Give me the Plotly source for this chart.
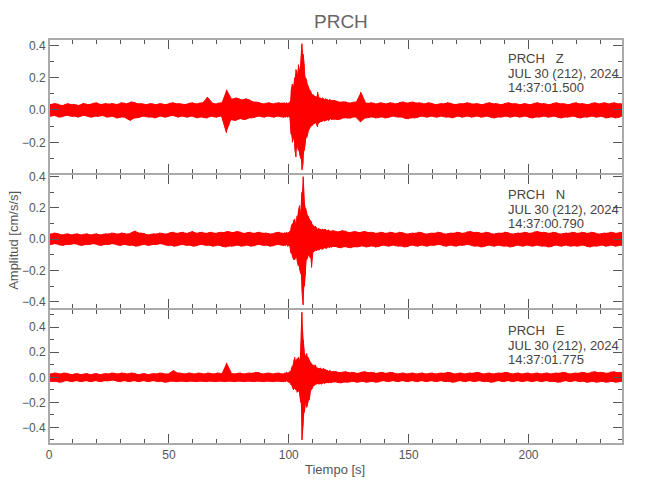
import plotly.graph_objects as go
from plotly.subplots import make_subplots

# ---- data: envelope (max / min) of each trace per time bin ----
t_env = [
    0, 2, 4, 6, 8, 10, 12, 14, 16, 18,
    20, 22, 24, 26, 28, 30, 32, 34, 36, 38,
    40, 42, 44, 46, 48, 50, 52, 54, 56, 58,
    60, 62, 64, 66, 68, 70, 72, 74, 76, 78,
    80, 82, 84, 86, 88, 90, 92, 94, 96, 98,
    98.5, 99, 99.5, 100, 100.5, 101, 101.5, 102, 102.5, 103,
    103.5, 104, 104.5, 105, 105.5, 106, 106.5, 107, 107.5, 108,
    108.5, 109, 109.5, 110, 110.5, 111, 111.5, 112, 112.5, 113,
    113.5, 114, 114.5, 115, 115.5, 116, 116.5, 117, 117.5, 118,
    120, 122, 124, 126, 128, 130, 132, 134, 136, 138,
    140, 142, 144, 146, 148, 150, 152, 154, 156, 158,
    160, 162, 164, 166, 168, 170, 172, 174, 176, 178,
    180, 182, 184, 186, 188, 190, 192, 194, 196, 198,
    200, 202, 204, 206, 208, 210, 212, 214, 216, 218,
    220, 222, 224, 226, 228, 230, 232, 234, 236, 238,
    239.4,
]

z_up = [
    0.035, 0.040, 0.035, 0.030, 0.040, 0.035, 0.030, 0.040, 0.035, 0.040,
    0.045, 0.035, 0.040, 0.040, 0.035, 0.045, 0.040, 0.050, 0.045, 0.040,
    0.035, 0.040, 0.035, 0.040, 0.035, 0.040, 0.045, 0.040, 0.035, 0.040,
    0.045, 0.040, 0.045, 0.080, 0.045, 0.040, 0.045, 0.125, 0.070, 0.075,
    0.065, 0.070, 0.060, 0.050, 0.045, 0.040, 0.045, 0.040, 0.045, 0.045,
    0.040, 0.045, 0.040, 0.045, 0.050, 0.120, 0.160, 0.140, 0.200, 0.250,
    0.220, 0.280, 0.240, 0.300, 0.410, 0.345, 0.270, 0.200, 0.180, 0.150,
    0.130, 0.120, 0.100, 0.095, 0.090, 0.085, 0.080, 0.110, 0.080, 0.075,
    0.070, 0.075, 0.070, 0.065, 0.070, 0.065, 0.060, 0.065, 0.060, 0.060,
    0.055, 0.050, 0.050, 0.045, 0.050, 0.110, 0.045, 0.045, 0.040, 0.045,
    0.040, 0.045, 0.040, 0.045, 0.050, 0.045, 0.050, 0.045, 0.040, 0.045,
    0.040, 0.035, 0.040, 0.045, 0.040, 0.035, 0.040, 0.045, 0.040, 0.040,
    0.035, 0.040, 0.045, 0.040, 0.035, 0.040, 0.045, 0.040, 0.035, 0.040,
    0.035, 0.040, 0.045, 0.040, 0.035, 0.040, 0.045, 0.040, 0.035, 0.040,
    0.045, 0.040, 0.035, 0.040, 0.045, 0.040, 0.045, 0.040, 0.045, 0.040,
    0.035,
]
z_lo = [
    -0.040, -0.035, -0.045, -0.040, -0.035, -0.040, -0.045, -0.035, -0.040, -0.045,
    -0.040, -0.035, -0.045, -0.040, -0.050, -0.045, -0.050, -0.065, -0.050, -0.045,
    -0.040, -0.045, -0.050, -0.040, -0.045, -0.040, -0.035, -0.045, -0.040, -0.045,
    -0.040, -0.050, -0.045, -0.050, -0.040, -0.045, -0.040, -0.140, -0.060, -0.065,
    -0.055, -0.060, -0.050, -0.045, -0.040, -0.045, -0.040, -0.045, -0.040, -0.045,
    -0.045, -0.040, -0.045, -0.040, -0.050, -0.150, -0.200, -0.170, -0.240, -0.290,
    -0.220, -0.250, -0.270, -0.300, -0.370, -0.330, -0.250, -0.190, -0.170, -0.140,
    -0.120, -0.105, -0.100, -0.090, -0.085, -0.080, -0.085, -0.105, -0.080, -0.075,
    -0.070, -0.070, -0.065, -0.070, -0.065, -0.060, -0.065, -0.060, -0.055, -0.060,
    -0.060, -0.055, -0.050, -0.050, -0.045, -0.075, -0.050, -0.045, -0.050, -0.045,
    -0.050, -0.045, -0.040, -0.045, -0.050, -0.055, -0.050, -0.045, -0.040, -0.045,
    -0.040, -0.045, -0.040, -0.045, -0.050, -0.040, -0.045, -0.040, -0.045, -0.040,
    -0.045, -0.040, -0.045, -0.050, -0.045, -0.040, -0.045, -0.040, -0.045, -0.040,
    -0.045, -0.050, -0.045, -0.040, -0.045, -0.040, -0.045, -0.050, -0.045, -0.040,
    -0.045, -0.050, -0.045, -0.040, -0.045, -0.040, -0.050, -0.045, -0.050, -0.045,
    -0.040,
]

n_up = [
    0.035, 0.040, 0.035, 0.030, 0.035, 0.030, 0.035, 0.030, 0.035, 0.030,
    0.035, 0.030, 0.035, 0.040, 0.035, 0.040, 0.035, 0.040, 0.053, 0.040,
    0.035, 0.030, 0.035, 0.040, 0.035, 0.040, 0.045, 0.040, 0.045, 0.040,
    0.050, 0.040, 0.045, 0.040, 0.045, 0.040, 0.045, 0.050, 0.045, 0.050,
    0.045, 0.040, 0.045, 0.040, 0.045, 0.040, 0.035, 0.040, 0.045, 0.040,
    0.040, 0.045, 0.040, 0.045, 0.050, 0.080, 0.100, 0.120, 0.130, 0.100,
    0.150, 0.180, 0.215, 0.170, 0.300, 0.400, 0.240, 0.200, 0.170, 0.150,
    0.130, 0.120, 0.110, 0.090, 0.080, 0.085, 0.075, 0.065, 0.070, 0.065,
    0.060, 0.065, 0.060, 0.065, 0.060, 0.055, 0.060, 0.055, 0.050, 0.055,
    0.050, 0.055, 0.050, 0.045, 0.050, 0.045, 0.050, 0.045, 0.040, 0.045,
    0.040, 0.045, 0.040, 0.045, 0.040, 0.035, 0.040, 0.045, 0.040, 0.035,
    0.040, 0.045, 0.040, 0.035, 0.040, 0.045, 0.040, 0.045, 0.050, 0.045,
    0.040, 0.045, 0.040, 0.035, 0.040, 0.045, 0.040, 0.035, 0.040, 0.045,
    0.040, 0.045, 0.050, 0.045, 0.040, 0.045, 0.040, 0.035, 0.040, 0.045,
    0.040, 0.045, 0.040, 0.045, 0.040, 0.035, 0.040, 0.045, 0.040, 0.045,
    0.040,
]
n_lo = [
    -0.035, -0.030, -0.035, -0.040, -0.035, -0.030, -0.035, -0.040, -0.035, -0.030,
    -0.035, -0.040, -0.035, -0.030, -0.035, -0.040, -0.035, -0.040, -0.045, -0.040,
    -0.035, -0.040, -0.035, -0.030, -0.035, -0.040, -0.045, -0.040, -0.035, -0.040,
    -0.045, -0.040, -0.035, -0.040, -0.045, -0.040, -0.045, -0.050, -0.045, -0.040,
    -0.045, -0.040, -0.045, -0.040, -0.035, -0.040, -0.045, -0.040, -0.035, -0.040,
    -0.040, -0.035, -0.045, -0.040, -0.050, -0.090, -0.110, -0.130, -0.130, -0.110,
    -0.140, -0.170, -0.190, -0.220, -0.330, -0.420, -0.300, -0.200, -0.130, -0.110,
    -0.100, -0.120, -0.180, -0.090, -0.080, -0.070, -0.075, -0.065, -0.070, -0.065,
    -0.060, -0.065, -0.060, -0.055, -0.060, -0.055, -0.050, -0.055, -0.050, -0.050,
    -0.050, -0.055, -0.050, -0.055, -0.050, -0.045, -0.050, -0.045, -0.050, -0.045,
    -0.040, -0.045, -0.040, -0.045, -0.050, -0.045, -0.040, -0.045, -0.040, -0.045,
    -0.040, -0.035, -0.040, -0.045, -0.040, -0.045, -0.040, -0.035, -0.040, -0.045,
    -0.050, -0.045, -0.040, -0.045, -0.040, -0.045, -0.050, -0.045, -0.040, -0.045,
    -0.040, -0.045, -0.040, -0.045, -0.050, -0.045, -0.040, -0.045, -0.040, -0.045,
    -0.045, -0.040, -0.045, -0.050, -0.045, -0.040, -0.045, -0.040, -0.045, -0.040,
    -0.045,
]

e_up = [
    0.030, 0.035, 0.030, 0.035, 0.030, 0.025, 0.030, 0.025, 0.030, 0.025,
    0.030, 0.025, 0.030, 0.035, 0.030, 0.035, 0.030, 0.035, 0.030, 0.025,
    0.030, 0.025, 0.030, 0.035, 0.030, 0.030, 0.055, 0.035, 0.030, 0.035,
    0.030, 0.035, 0.030, 0.035, 0.030, 0.035, 0.030, 0.115, 0.035, 0.030,
    0.035, 0.030, 0.035, 0.040, 0.035, 0.030, 0.035, 0.030, 0.035, 0.030,
    0.035, 0.040, 0.035, 0.040, 0.045, 0.060, 0.090, 0.120, 0.160, 0.130,
    0.150, 0.160, 0.140, 0.250, 0.520, 0.300, 0.200, 0.170, 0.190, 0.160,
    0.140, 0.120, 0.110, 0.100, 0.090, 0.100, 0.080, 0.075, 0.070, 0.075,
    0.070, 0.065, 0.070, 0.065, 0.060, 0.055, 0.050, 0.055, 0.050, 0.045,
    0.045, 0.040, 0.045, 0.040, 0.035, 0.040, 0.045, 0.040, 0.035, 0.040,
    0.035, 0.040, 0.035, 0.030, 0.035, 0.030, 0.035, 0.030, 0.035, 0.030,
    0.035, 0.030, 0.035, 0.040, 0.035, 0.030, 0.035, 0.030, 0.035, 0.040,
    0.035, 0.030, 0.035, 0.030, 0.035, 0.040, 0.035, 0.030, 0.035, 0.030,
    0.035, 0.030, 0.035, 0.030, 0.035, 0.030, 0.035, 0.040, 0.035, 0.030,
    0.035, 0.040, 0.035, 0.040, 0.045, 0.040, 0.035, 0.040, 0.045, 0.040,
    0.035,
]
e_lo = [
    -0.030, -0.035, -0.040, -0.035, -0.030, -0.035, -0.030, -0.035, -0.030, -0.035,
    -0.030, -0.035, -0.030, -0.025, -0.030, -0.035, -0.030, -0.035, -0.030, -0.035,
    -0.030, -0.035, -0.030, -0.035, -0.040, -0.035, -0.030, -0.035, -0.030, -0.035,
    -0.030, -0.035, -0.030, -0.035, -0.030, -0.035, -0.030, -0.035, -0.030, -0.035,
    -0.030, -0.035, -0.030, -0.035, -0.030, -0.035, -0.030, -0.035, -0.030, -0.035,
    -0.035, -0.030, -0.035, -0.040, -0.045, -0.060, -0.080, -0.100, -0.090, -0.100,
    -0.120, -0.110, -0.130, -0.200, -0.500, -0.370, -0.280, -0.200, -0.240, -0.200,
    -0.180, -0.120, -0.100, -0.080, -0.065, -0.060, -0.055, -0.050, -0.055, -0.050,
    -0.055, -0.050, -0.045, -0.050, -0.045, -0.040, -0.045, -0.040, -0.045, -0.040,
    -0.040, -0.045, -0.040, -0.035, -0.040, -0.035, -0.040, -0.035, -0.040, -0.035,
    -0.030, -0.035, -0.030, -0.035, -0.030, -0.035, -0.030, -0.035, -0.030, -0.035,
    -0.030, -0.035, -0.030, -0.035, -0.040, -0.035, -0.030, -0.035, -0.030, -0.035,
    -0.030, -0.035, -0.040, -0.035, -0.030, -0.035, -0.030, -0.035, -0.030, -0.035,
    -0.030, -0.035, -0.030, -0.035, -0.030, -0.035, -0.040, -0.035, -0.030, -0.035,
    -0.030, -0.035, -0.040, -0.035, -0.040, -0.035, -0.040, -0.035, -0.040, -0.035,
    -0.040,
]

station = "PRCH"
components = ["Z", "N", "E"]
date_label = "JUL 30 (212), 2024"
start_times = ["14:37:01.500", "14:37:00.790", "14:37:01.775"]
y_ranges = [[-0.396, 0.439], [-0.446, 0.417], [-0.533, 0.546]]
x_ticks = [0, 50, 100, 150, 200]

for arr in (z_up, z_lo, n_up, n_lo, e_up, e_lo):
    assert len(arr) == len(t_env)

# ---- figure ----
FONT = "Liberation Sans, Arial, sans-serif"
TXT = "#555555"
RED = "#ff0000"
FRAME = "#aaaaaa"

fig = make_subplots(rows=3, cols=1, shared_xaxes=True, vertical_spacing=0)

series = [(z_up, z_lo), (n_up, n_lo), (e_up, e_lo)]
for i, (up, lo) in enumerate(series):
    row = i + 1
    fig.add_trace(go.Scatter(
        x=t_env + t_env[::-1], y=up + lo[::-1], fill="toself",
        fillcolor=RED, mode="lines", line=dict(width=0, color=RED),
        hoverinfo="skip", showlegend=False), row=row, col=1)
    zx, zy = [], []
    for k, (tk, u, l) in enumerate(zip(t_env, up, lo)):
        zx += [tk, tk]
        zy += [u, l] if k % 2 == 0 else [l, u]
    fig.add_trace(go.Scatter(
        x=zx, y=zy, mode="lines", line=dict(width=1, color=RED),
        hoverinfo="skip", showlegend=False), row=row, col=1)

axis_common = dict(
    showline=True, linecolor=FRAME, linewidth=1, mirror="allticks",
    ticks="inside", ticklen=10, tickwidth=1, tickcolor="#555555",
    showgrid=False, zeroline=False, automargin=False,
    tickfont=dict(family=FONT, size=12, color=TXT),
)

for i in range(3):
    row = i + 1
    fig.update_xaxes(
        range=[0, 239.4], tickmode="array", tickvals=x_ticks,
        ticktext=[str(v) for v in x_ticks],
        minor=dict(dtick=10, tick0=0, ticks="inside", ticklen=5,
                   tickcolor="#555555", showgrid=False),
        showticklabels=(row == 3), **axis_common, row=row, col=1)
    fig.update_yaxes(
        range=y_ranges[i], dtick=0.2, tick0=0, tickformat=".1f",
        minor=dict(dtick=0.1, tick0=0, ticks="inside", ticklen=5,
                   tickcolor="#555555", showgrid=False),
        **axis_common, row=row, col=1)

# panel frames (shared boundaries drawn once, 2 px)
shapes = []
for i in range(3):
    sfx = "" if i == 0 else str(i + 1)
    shapes.append(dict(type="rect", xref=f"x{sfx} domain", yref=f"y{sfx} domain",
                       x0=0, x1=1, y0=0, y1=1, line=dict(color=FRAME, width=2),
                       layer="above"))

annotations = []
line_y = [[0.9514, 0.9160, 0.8807], [0.6156, 0.5800, 0.5446], [0.2798, 0.2440, 0.2086]]
for i in range(3):
    texts = [f"{station}   {components[i]}", date_label, start_times[i]]
    for txt, yy in zip(texts, line_y[i]):
        annotations.append(dict(
            text=txt, xref="paper", yref="paper", x=0.797, y=yy,
            xanchor="left", yanchor="middle", showarrow=False,
            font=dict(family=FONT, size=13, color="#444444")))

annotations.append(dict(text=station, xref="paper", yref="paper", x=0.508, y=1.043,
                        xanchor="center", yanchor="middle", showarrow=False,
                        font=dict(family=FONT, size=19, color="#666666")))
annotations.append(dict(text="Tiempo [s]", xref="paper", yref="paper", x=0.498, y=-0.064,
                        xanchor="center", yanchor="middle", showarrow=False,
                        font=dict(family=FONT, size=13, color=TXT)))
annotations.append(dict(text="Amplitud [cm/s/s]", xref="paper", yref="paper", x=-0.061, y=0.504,
                        xanchor="center", yanchor="middle", textangle=-90, showarrow=False,
                        font=dict(family=FONT, size=13, color=TXT)))

# the page body adds an 8 px offset, so margins are shifted to compensate
fig.update_layout(
    width=650, height=500,
    margin=dict(l=41, r=35, t=31, b=64),
    paper_bgcolor="white", plot_bgcolor="white",
    font=dict(family=FONT, size=12, color=TXT),
    showlegend=False,
    annotations=annotations,
    shapes=shapes,
)

fig.write_html("out.html")
